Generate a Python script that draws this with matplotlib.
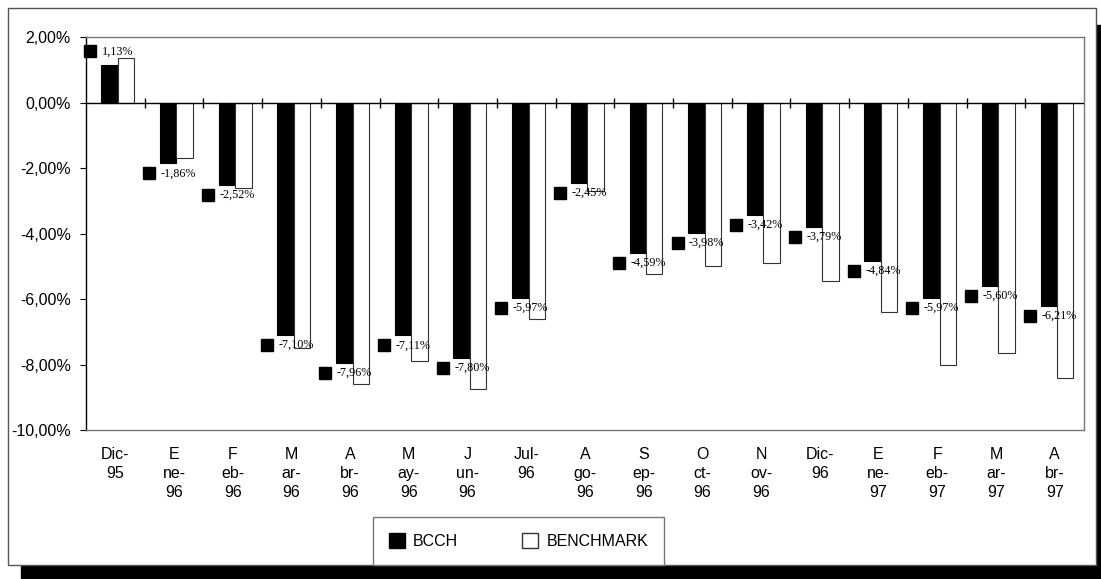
import numpy as np
import matplotlib
matplotlib.use("Agg")
import matplotlib.pyplot as plt
import matplotlib.transforms as mtransforms
from matplotlib.patches import Patch, Rectangle

# data (percent)
months = ["Dic-\n95", "E\nne-\n96", "F\neb-\n96", "M\nar-\n96", "A\nbr-\n96",
          "M\nay-\n96", "J\nun-\n96", "Jul-\n96", "A\ngo-\n96", "S\nep-\n96",
          "O\nct-\n96", "N\nov-\n96", "Dic-\n96", "E\nne-\n97", "F\neb-\n97",
          "M\nar-\n97", "A\nbr-\n97"]
bcch = [1.13, -1.86, -2.52, -7.10, -7.96, -7.11, -7.80, -5.97, -2.45,
        -4.59, -3.98, -3.42, -3.79, -4.84, -5.97, -5.60, -6.21]
benchmark = [1.37, -1.70, -2.60, -7.50, -8.60, -7.90, -8.75, -6.60, -2.70,
             -5.25, -5.00, -4.90, -5.45, -6.40, -8.00, -7.65, -8.40]
yticks = [2, 0, -2, -4, -6, -8, -10]

SANS = "Liberation Sans"
SERIF = "Liberation Serif"

fig = plt.figure(figsize=(11.01, 5.79), dpi=100)

# outer chart frame + black drop shadow
fig.patches.append(Rectangle((21 / 1101, 0), 1 - 21 / 1101, 13 / 579,
                             transform=fig.transFigure, color="black", zorder=0))
fig.patches.append(Rectangle((1096 / 1101, 0), 5 / 1101, 1 - 25 / 579,
                             transform=fig.transFigure, color="black", zorder=0))
fig.patches.append(Rectangle((8 / 1101, 14 / 579), 1088 / 1101, 1 - 22 / 579,
                             transform=fig.transFigure, facecolor="white",
                             edgecolor="#555555", lw=1, zorder=0.5))

ax = fig.add_axes((86 / 1101, 1 - 430 / 579, 998 / 1101, 393 / 579))
ax.set_zorder(2)

n = len(months)
idx = np.arange(n)
w = 0.28
x_b = idx + 0.40
x_w = idx + 0.68

ax.bar(x_b, bcch, width=w, color="black", edgecolor="black", lw=0.8, zorder=3)
ax.bar(x_w, benchmark, width=w, color="white", edgecolor="#333333", lw=0.8, zorder=3)

ax.set_xlim(0, n)
ax.set_ylim(-10, 2)

# category axis at zero with ticks between groups
ax.axhline(0, color="black", lw=1, zorder=4)
ax.plot(idx[1:], np.zeros(n - 1), ls="none", marker="|", ms=7, mew=1,
        color="black", zorder=5, clip_on=False)

ax.set_xticks(idx + 0.5)
ax.set_xticklabels(months, fontsize=11.5, family=SANS, linespacing=1.35)
ax.tick_params(axis="x", length=0, pad=12)

ax.set_yticks(yticks)
ax.set_yticklabels([f"{t:.2f}".replace(".", ",") + "%" for t in yticks],
                   fontsize=11.5, family=SANS)
ax.tick_params(axis="y", direction="out", length=4, width=0.8, pad=7)

for side in ["top", "right", "bottom"]:
    ax.spines[side].set_color("#777777")
    ax.spines[side].set_linewidth(1)
ax.spines["left"].set_color("black")
ax.spines["left"].set_linewidth(1)

# data labels: legend key + value
for xb, v in zip(x_b, bcch):
    dy = 14 if v > 0 else -10
    trans = mtransforms.offset_copy(ax.transData, fig=fig, x=-19, y=dy, units="dots")
    ax.plot([xb], [v], marker="s", ms=8, color="black", transform=trans,
            zorder=6, clip_on=False)
    ax.annotate(f"{v:.2f}".replace(".", ",") + "%", xy=(xb, v),
                xytext=(-7.5 * 0.72, dy * 0.72), textcoords="offset points",
                ha="left", va="center", family=SERIF, fontsize=8.7, zorder=6)

handles = [Patch(facecolor="black", edgecolor="black", label="BCCH"),
           Patch(facecolor="white", edgecolor="#333333", label="BENCHMARK")]
leg = fig.legend(handles=handles, loc="lower left", ncol=2, mode="expand",
                 bbox_to_anchor=(373 / 1101, 14 / 579, 291 / 1101, 50 / 579),
                 prop={"family": SANS, "size": 11.5}, fancybox=False,
                 framealpha=1, edgecolor="#777777", borderaxespad=0,
                 borderpad=1.0, handlelength=1.0, handleheight=1.0,
                 handletextpad=0.5)
leg.get_frame().set_linewidth(1)

fig.savefig("out.png", dpi=100)
